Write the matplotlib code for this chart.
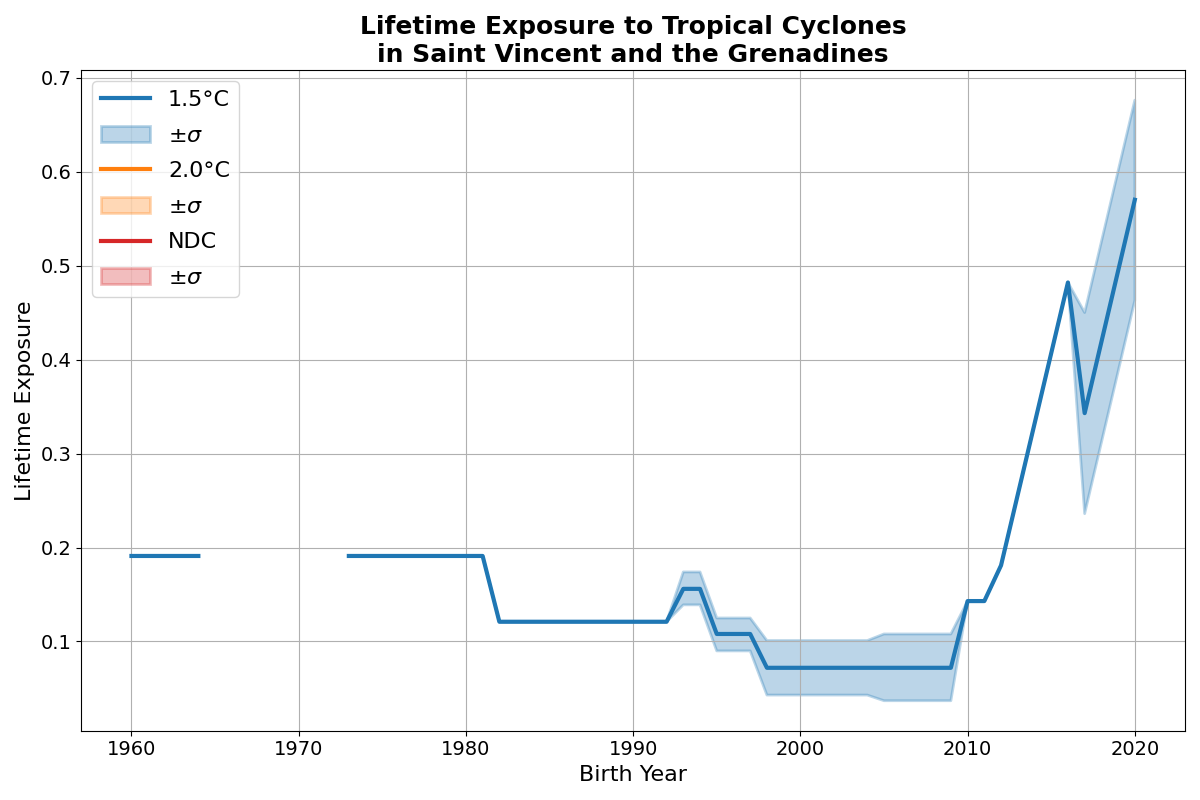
import numpy as np
import matplotlib
matplotlib.use('Agg')
import matplotlib.pyplot as plt

# Birth years shown (straight segments where years are missing)
years = [1960, 1961, 1962, 1963, 1964,
         1965, 1966, 1967, 1968, 1969, 1970, 1971, 1972,
         1973, 1974, 1975, 1976, 1977, 1978, 1979, 1980, 1981,
         1982, 1983, 1984, 1985, 1986, 1987, 1988, 1989, 1990, 1991, 1992,
         1993, 1994, 1995, 1996, 1997,
         1998, 1999, 2000, 2001, 2002, 2003, 2004,
         2005, 2006, 2007, 2008, 2009,
         2010, 2011, 2012, 2016, 2017, 2020]

nan = np.nan
mean_15 = [0.191] * 5 + [nan] * 8 + [0.191] * 9 + [0.121] * 11 + \
          [0.156, 0.156, 0.108, 0.108, 0.108] + [0.072] * 7 + [0.072] * 5 + \
          [0.143, 0.143, 0.181, 0.482, 0.343, 0.570]
upper_15 = [0.191] * 5 + [nan] * 8 + [0.191] * 9 + [0.121] * 11 + \
           [0.174, 0.174, 0.125, 0.125, 0.125] + [0.101] * 7 + [0.108] * 5 + \
           [0.143, 0.143, 0.181, 0.482, 0.450, 0.676]
lower_15 = [0.191] * 5 + [nan] * 8 + [0.191] * 9 + [0.121] * 11 + \
           [0.139, 0.139, 0.090, 0.090, 0.090] + [0.043] * 7 + [0.037] * 5 + \
           [0.143, 0.143, 0.181, 0.482, 0.236, 0.463]

# 2.0°C and NDC scenarios have no data for this country
empty = []

plt.figure(figsize=(12, 8))
plt.plot(years, mean_15, color='C0', linewidth=3, label='1.5°C')
plt.fill_between(years, lower_15, upper_15, color='C0', alpha=0.3, linewidth=2, label=r'$\pm\sigma$')
plt.plot(empty, empty, color='C1', linewidth=3, label='2.0°C')
plt.fill_between(empty, empty, empty, color='C1', alpha=0.3, linewidth=2, label=r'$\pm\sigma$')
plt.plot(empty, empty, color='C3', linewidth=3, label='NDC')
plt.fill_between(empty, empty, empty, color='C3', alpha=0.3, linewidth=2, label=r'$\pm\sigma$')

plt.title('Lifetime Exposure to Tropical Cyclones\nin Saint Vincent and the Grenadines',
          fontsize=18, fontweight='bold')
plt.xlabel('Birth Year', fontsize=16)
plt.ylabel('Lifetime Exposure', fontsize=16)
plt.xticks(fontsize=14)
plt.yticks(fontsize=14)
plt.legend(loc='upper left', fontsize=16, handlelength=2.2, labelspacing=0.7)
plt.grid(True)
plt.tight_layout()
plt.savefig('out.png', dpi=100)
